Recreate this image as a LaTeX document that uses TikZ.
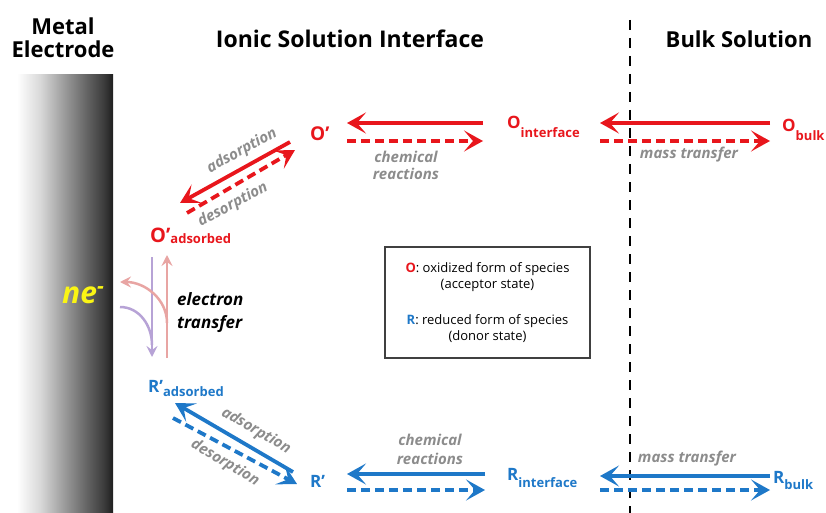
\documentclass[tikz,border=0pt]{standalone}
\usepackage{fontspec}
\setmainfont{Open Sans}
\usetikzlibrary{arrows.meta, calc}

\definecolor{oxred}{RGB}{232,22,28}
\definecolor{redblue}{RGB}{30,120,200}
\definecolor{labelgray}{RGB}{140,140,140}
\definecolor{etpurple}{RGB}{183,163,214}
\definecolor{etpink}{RGB}{232,165,163}
\definecolor{neyellow}{RGB}{250,245,20}

\pgfdeclarehorizontalshading{electrode}{100bp}{color(0bp)=(white); color(25bp)=(white);
  color(37bp)=(black!15); color(50bp)=(black!40); color(62bp)=(black!62);
  color(70bp)=(black!76); color(75bp)=(black!88); color(100bp)=(black!88)}

\newcommand{\spsub}[2][6pt]{{\fontsize{13}{13}\selectfont\raisebox{-#1}{#2}}}

\begin{document}
\begin{tikzpicture}[
    x=1pt, y=-1pt,
    heading/.style={
        font=\bfseries\fontsize{22}{24}\selectfont,
        anchor=base,
        inner sep=0pt,
    },
    species/.style={
        font=\bfseries\fontsize{17}{17}\selectfont,
        anchor=base west,
        inner sep=0pt,
    },
    process/.style={
        font=\bfseries\itshape\fontsize{15}{17}\selectfont,
        text=labelgray,
        inner sep=0pt,
    },
    flow/.style={
        line width=3.8pt,
        -{Stealth[length=19pt, width=21pt, inset=9pt]},
    },
    flowdash/.style={
        flow,
        dash pattern=on 9pt off 5pt,
    },
    transfer/.style={
        line width=2.5pt,
        -{Stealth[length=11pt, width=11pt, inset=4pt]},
    }
]
    \useasboundingbox (0,0) rectangle (826,513);

    % Headings
    \node[heading] (metal) at (63,35) {Metal};
    \node[heading] (electrode) at (63,58) {Electrode};
    \node[heading, font=\bfseries\fontsize{23}{24}\selectfont] (ionic) at (350,48) {Ionic Solution Interface};
    \node[heading] (bulk) at (739,48) {Bulk Solution};

    % Electrode and boundary
    \shade[shading=electrode] (17,75) rectangle (113,513);
    \draw[line width=2.5pt, dash pattern=on 10pt off 8pt] (630,20) -- (630,513);

    % Electrons
    \node[font=\bfseries\itshape\fontsize{30}{30}\selectfont, text=neyellow,
          anchor=base west, inner sep=0pt] (ne) at (62,303) {ne\textsuperscript{-}};

    % Oxidized species
    \node[species, text=oxred, font=\bfseries\fontsize{19}{19}\selectfont] (opr) at (310,141) {O’};
    \node[species, text=oxred] (oint) at (507,129) {O\spsub[9pt]{interface}};
    \node[species, text=oxred] (obulk) at (782,132) {O\spsub[9pt]{bulk}};
    \node[species, text=oxred, font=\bfseries\fontsize{20}{20}\selectfont] (oads) at (150,242) {O’\spsub[1pt]{adsorbed}};

    % Reduced species
    \node[species, text=redblue] (rads) at (148,392) {R’\spsub[4pt]{adsorbed}};
    \node[species, text=redblue] (rpr) at (310,487) {R’};
    \node[species, text=redblue] (rint) at (507,480) {R\spsub[7pt]{interface}};
    \node[species, text=redblue] (rbulk) at (773,483) {R\spsub[6pt]{bulk}};

    % Oxidized pathway
    \draw[flow, oxred] ($(oint.base west)+(-24,-6)$) -- ($(opr.base west)+(37,-18)$);
    \draw[flowdash, oxred] ($(opr.base west)+(37,0)$) -- ($(oint.base west)+(-24,12)$);
    \draw[flow, oxred] ($(obulk.base west)+(-12,-9)$) -- ($(oint.base west)+(93,-6)$);
    \draw[flowdash, oxred] ($(oint.base west)+(93,12)$) -- ($(obulk.base west)+(-12,9)$);
    \draw[flow, oxred] ($(opr.base west)+(-20,1)$) -- ($(oads.base west)+(30,-39)$);
    \draw[flowdash, oxred] ($(oads.base west)+(37,-29)$) -- ($(opr.base west)+(-15,9)$);

    % Reduced pathway
    \draw[flow, redblue] ($(rint.base west)+(-22,-6)$) -- ($(rpr.base west)+(37,-13)$);
    \draw[flowdash, redblue] ($(rpr.base west)+(37,3)$) -- ($(rint.base west)+(-22,10)$);
    \draw[flow, redblue] ($(rbulk.base west)+(-3,-7)$) -- ($(rint.base west)+(93,-4)$);
    \draw[flowdash, redblue] ($(rint.base west)+(93,10)$) -- ($(rbulk.base west)+(-3,7)$);
    \draw[flow, redblue] ($(rpr.base west)+(-17,-15)$) -- ($(rads.base west)+(27,11)$);
    \draw[flowdash, redblue] ($(rads.base west)+(25,26)$) -- ($(rpr.base west)+(-13,-3)$);

    % Electron transfer
    \draw[transfer, etpurple] ($(oads.base west)+(2,15)$) -- ($(rads.base west)+(4,-35)$);
    \draw[line width=2.5pt, etpurple] ($(ne.base west)+(58,4)$) to[out=0, in=90] ($(rads.base west)+(4,-47)$);
    \draw[transfer, etpink] ($(rads.base west)+(19,-34)$) -- ($(oads.base west)+(17,13)$);
    \draw[transfer, etpink] ($(rads.base west)+(19,-69)$) to[out=90, in=0] ($(ne.base west)+(58,-21)$);
    \node[font=\bfseries\itshape\fontsize{17}{17}\selectfont, anchor=base west, inner sep=0pt] (etone) at (177,305) {electron};
    \node[font=\bfseries\itshape\fontsize{17}{17}\selectfont, anchor=base west, inner sep=0pt] (ettwo) at (177,328) {transfer};

    % Process labels
    \node[process] (chemtopa) at (406,157) {chemical};
    \node[process] (chemtopb) at (406,174) {reactions};
    \node[process] (masstop) at (689,155) {mass transfer};
    \node[process] (chembota) at (430,440) {chemical};
    \node[process] (chembotb) at (430,459) {reactions};
    \node[process] (massbot) at (687,459) {mass transfer};
    \node[process, rotate=29] (oadsorp) at (242,151) {adsorption};
    \node[process, rotate=28] (odesorp) at (233,205) {desorption};
    \node[process, rotate=-30] (radsorp) at (256,431) {adsorption};
    \node[process, rotate=-31] (rdesorp) at (225,463) {desorption};

    % Legend
    \node[draw=black!75, line width=1.2pt, minimum width=205pt, minimum height=111pt,
          align=center, font=\fontsize{13}{16}\selectfont] (legend) at (487.5,302.5)
          {\textcolor{oxred}{\textbf{O}}: oxidized form of species\\(acceptor state)\\[20pt]
           \textcolor{redblue}{\textbf{R}}: reduced form of species\\(donor state)};
\end{tikzpicture}
\end{document}
